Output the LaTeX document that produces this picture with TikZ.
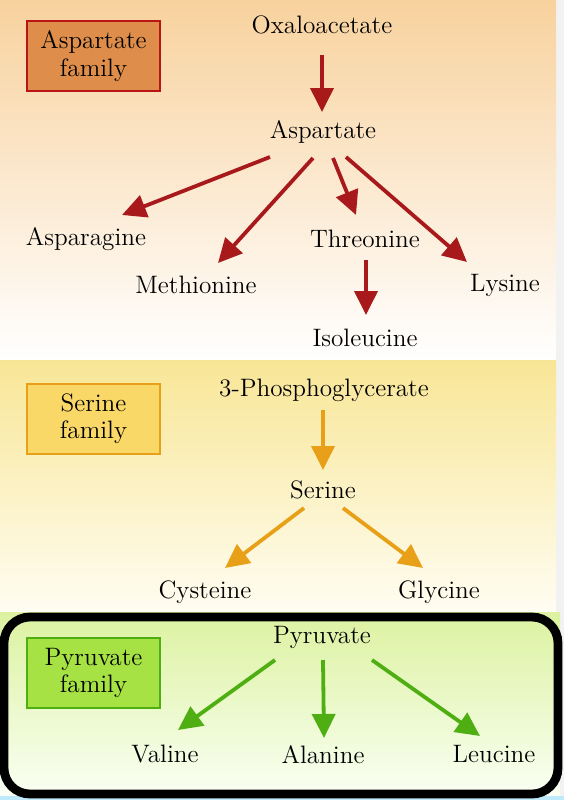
\documentclass[tikz,border=0pt]{standalone}
\usepackage[table]{xcolor}
\usepackage{tikz}
\usetikzlibrary{arrows.meta,backgrounds,calc}

\definecolor{aspred}{HTML}{A8191C}
\definecolor{serorange}{HTML}{E8A019}
\definecolor{pyrgreen}{HTML}{4FAE12}

\begin{document}
\begin{tikzpicture}[x=0.5pt,y=-0.5pt,
  font=\fontsize{12.6}{13.6}\selectfont,
  family/.style={draw,line width=0.6pt,minimum width=66.5pt,minimum height=35pt,align=center,inner sep=0pt},
  compound/.style={inner sep=1pt},
  conv/.style={line width=1.9pt,-{Triangle[length=12pt,width=11.5pt]}}]
\useasboundingbox (0,0) rectangle (564,800);
% bands
\fill[black!5] (0,0) rectangle (564,800);
\shade[top color={rgb,255:red,248;green,210;blue,158},bottom color=white] (0,0) rectangle (556,360);
\shade[top color={rgb,255:red,248;green,230;blue,150},bottom color={rgb,255:red,255;green,253;blue,242}] (0,360) rectangle (556,612);
\shade[top color={rgb,255:red,220;green,242;blue,160},bottom color={rgb,255:red,250;green,255;blue,244}] (0,612) rectangle (560,796);
\fill[cyan!25] (0,796) rectangle (564,800);

% aspartate family
\node[family,fill={rgb,255:red,222;green,142;blue,74},draw=aspred!80!red] (aspfam) at (93.5,56) {Aspartate\\family};
\node[compound] (oxalo) at (322,25) {Oxaloacetate};
\node[compound] (asp) at (323,132) {Aspartate};
\node[compound] (asn) at (86,239) {Asparagine};
\node[compound] (met) at (196,285) {Methionine};
\node[compound] (thr) at (365,239) {Threonine};
\node[compound] (lys) at (505,285) {Lysine};
\node[compound] (ile) at (365,338) {Isoleucine};
\begin{scope}[aspred]
\draw[conv] ($(oxalo)+(0,30)$) -- ($(asp)+(-1,-20)$);
\draw[conv] ($(asp)+(-53,25)$) -- ($(asn)+(36,-24)$);
\draw[conv] ($(asp)+(-10,26)$) -- ($(met)+(22,-22)$);
\draw[conv] ($(asp)+(10,26)$) -- ($(thr)+(-9,-24)$);
\draw[conv] ($(asp)+(23,25)$) -- ($(lys)+(-38,-23)$);
\draw[conv] ($(thr)+(1,21)$) -- ($(ile)+(1,-23)$);
\end{scope}

% serine family
\node[family,fill={rgb,255:red,249;green,216;blue,104},draw=serorange] (serfam) at (93.5,419) {Serine\\family};
\node[compound] (pga) at (324,390) {3-Phosphoglycerate};
\node[compound] (ser) at (323,490) {Serine};
\node[compound] (cys) at (205,592) {Cysteine};
\node[compound] (gly) at (439,592) {Glycine};
\begin{scope}[serorange]
\draw[conv] ($(pga)+(-1,20)$) -- ($(ser)+(0,-20)$);
\draw[conv] ($(ser)+(-19,18)$) -- ($(cys)+(20,-24)$);
\draw[conv] ($(ser)+(20,18)$) -- ($(gly)+(-16,-24)$);
\end{scope}

% pyruvate family
\draw[line width=4.4pt,rounded corners=13pt] (4,617) rectangle (558,794);
\node[family,fill={rgb,255:red,166;green,226;blue,68},draw=pyrgreen] (pyrfam) at (93.5,673) {Pyruvate\\family};
\node[compound] (pyr) at (322,637) {Pyruvate};
\node[compound] (val) at (165,754) {Valine};
\node[compound] (ala) at (323,755) {Alanine};
\node[compound] (leu) at (494,754) {Leucine};
\begin{scope}[pyrgreen]
\draw[conv] ($(pyr)+(-47,23)$) -- ($(val)+(13,-24)$);
\draw[conv] ($(pyr)+(1,23)$) -- ($(ala)+(1,-17)$);
\draw[conv] ($(pyr)+(50,23)$) -- ($(leu)+(-14,-18)$);
\end{scope}
\end{tikzpicture}
\end{document}
